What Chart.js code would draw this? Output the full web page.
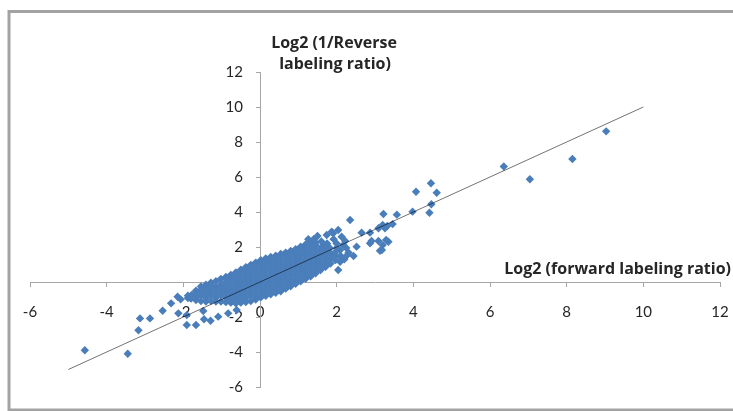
<!DOCTYPE html>
<html>
<head>
<meta charset="utf-8">
<title>Forward vs reverse labeling ratio</title>
<script src="https://cdn.jsdelivr.net/npm/chart.js@4/dist/chart.umd.min.js"></script>
<style>
  html, body { margin: 0; padding: 0; background: #fff; }
  canvas { display: block; }
</style>
</head>
<body>
<canvas id="ratioChart" width="733" height="411"></canvas>
<script>
// Axis range and tick spacing (both axes share them)
const axisMin = -6;
const axisMax = 12;
const axisStep = 2;

// Diagonal reference line end points
const fitX = [-5, 10];
const fitY = [-5, 10];

// Dense central cluster, listed column by column:
// forward log2 ratio for each column, reverse log2 ratios found in it
const coreX = [-1.88, -1.80, -1.67, -1.54, -1.41, -1.28, -1.15, -1.02, -0.89, -0.76, -0.63,
  -0.50, -0.37, -0.24, -0.11, 0.02, 0.15, 0.28, 0.41, 0.54, 0.67, 0.80, 0.93, 1.06, 1.19,
  1.32, 1.45, 1.58, 1.71, 1.84, 1.97, 2.10];
const coreY = [
  [-0.92, -0.78],
  [-0.95, -0.80],
  [-1.03, -0.90, -0.60, -0.50],
  [-1.09, -0.75, -0.45, -0.26],
  [-1.11, -0.90, -0.60, -0.30, -0.15],
  [-1.08, -0.75, -0.45, -0.15, -0.04],
  [-1.11, -0.90, -0.60, -0.30, 0.05],
  [-1.12, -0.75, -0.45, -0.15, 0.18],
  [-1.15, -0.90, -0.60, -0.30, 0.00, 0.29],
  [-1.18, -1.05, -0.75, -0.45, -0.15, 0.15, 0.41],
  [-1.21, -0.90, -0.60, -0.30, 0.00, 0.30, 0.55],
  [-1.18, -1.05, -0.75, -0.45, -0.15, 0.15, 0.45, 0.70],
  [-1.14, -0.90, -0.60, -0.30, 0.00, 0.30, 0.60, 0.85],
  [-1.09, -0.75, -0.45, -0.15, 0.15, 0.45, 0.75, 0.98],
  [-1.00, -0.90, -0.60, -0.30, 0.00, 0.30, 0.60, 0.90, 1.11],
  [-0.88, -0.75, -0.45, -0.15, 0.15, 0.45, 0.75, 1.05, 1.25],
  [-0.79, -0.60, -0.30, 0.00, 0.30, 0.60, 0.90, 1.20, 1.34],
  [-0.70, -0.45, -0.15, 0.15, 0.45, 0.75, 1.05, 1.35, 1.43],
  [-0.61, -0.30, 0.00, 0.30, 0.60, 0.90, 1.20, 1.50],
  [-0.53, -0.45, -0.15, 0.15, 0.45, 0.75, 1.05, 1.35, 1.60],
  [-0.38, -0.30, 0.00, 0.30, 0.60, 0.90, 1.20, 1.50, 1.68],
  [-0.24, -0.15, 0.15, 0.45, 0.75, 1.05, 1.35, 1.65, 1.77],
  [-0.10, 0.00, 0.30, 0.60, 0.90, 1.20, 1.50, 1.80, 1.88],
  [0.04, 0.15, 0.45, 0.75, 1.05, 1.35, 1.65, 1.95, 2.02],
  [0.18, 0.30, 0.60, 0.90, 1.20, 1.50, 1.80, 2.10, 2.14],
  [0.32, 0.45, 0.75, 1.05, 1.35, 1.65, 1.95, 2.20],
  [0.50, 0.60, 0.90, 1.20, 1.50, 1.80, 2.10, 2.26],
  [0.69, 0.75, 1.05, 1.35, 1.65, 1.95],
  [0.87, 0.90, 1.20, 1.50, 1.80],
  [1.06, 1.35, 1.65],
  [1.25, 1.50],
  [1.45]
];

// Scattered proteins outside the main cluster
const outerX = [9.03, 8.15, 7.04, 6.36,
  4.46, 4.07, 4.61, 4.47, 4.42, 3.98, 3.57, 3.22,
  3.20, 3.32, 3.46, 3.09, 3.26,
  3.29, 3.35, 3.20, 3.18, 3.09, 2.91, 2.87, 3.13,
  2.35, 2.65, 2.87, 2.04, 1.87, 1.91, 2.13, 1.74, 1.50, 1.26,
  2.52, 2.17, 2.09, 2.31, 2.44, 2.09, 2.04,
  1.60, 1.75, 1.92, 2.00, 1.66, 1.82, 2.00, 2.22, 1.40, 2.25, 1.95, 2.10, 2.20, 2.28,
  -4.57, -3.45, -3.17, -3.13, -2.87, -2.54, -2.32, -2.15, -2.07, -2.13,
  -1.91, -1.91, -1.67, -1.46, -1.29, -1.09, -0.83, -0.61, -1.48, -1.78];
const outerY = [8.61, 7.03, 5.87, 6.60,
  5.64, 5.16, 5.10, 4.44, 3.96, 4.02, 3.85, 3.89,
  3.26, 3.20, 3.31, 3.07, 3.07,
  2.40, 2.30, 2.11, 1.83, 2.34, 2.34, 2.21, 1.79,
  3.54, 2.82, 2.82, 2.97, 2.87, 2.78, 2.59, 2.69, 2.63, 2.44,
  2.02, 2.11, 1.83, 1.68, 1.49, 1.16, 0.69,
  2.32, 2.20, 2.45, 2.20, 2.02, 1.95, 1.95, 2.35, 2.45, 1.95, 1.68, 1.50, 1.30, 1.55,
  -3.90, -4.10, -2.76, -2.08, -2.08, -1.64, -1.22, -0.84, -0.99, -1.79,
  -1.89, -2.46, -2.46, -2.13, -2.21, -1.98, -1.79, -1.60, -1.66, -0.74];

const axisTitleY = ['Log2 (1/Reverse', 'labeling ratio)'];
const axisTitleX = 'Log2 (forward labeling ratio)';

// Build point lists for the library
const points = [];
coreX.forEach((x, i) => coreY[i].forEach(y => points.push({ x: x, y: y })));
outerX.forEach((x, i) => points.push({ x: x, y: outerY[i] }));
const fitPoints = fitX.map((x, i) => ({ x: x, y: fitY[i] }));

const axisColor = '#a6a6a6';
const textColor = '#262626';
const tickFont = 'Lato, "Liberation Sans", sans-serif';
const titleFont = 'bold 16px "Open Sans", "Liberation Sans", sans-serif';

// Frame, axis titles and tick label offsets from the crossing axes
const decorations = {
  id: 'decorations',
  beforeDraw(chart) {
    const ctx = chart.ctx;
    ctx.save();
    ctx.fillStyle = '#fff';
    ctx.fillRect(0, 0, chart.width, chart.height);
    ctx.strokeStyle = '#a3a3a3';
    ctx.lineWidth = 3;
    ctx.strokeRect(9, 11.5, 740, 398.5);
    ctx.restore();

    const xZero = chart.scales.x.getPixelForValue(0);
    const yZero = chart.scales.y.getPixelForValue(0);
    chart.scales.y.getLabelItems().forEach(item => {
      item.options.translation[0] = xZero - 17;
    });
    chart.scales.x.getLabelItems().forEach(item => {
      item.options.translation[1] = yZero + 21;
    });
  },
  afterDraw(chart) {
    const ctx = chart.ctx;
    ctx.save();
    ctx.fillStyle = textColor;
    ctx.font = titleFont;
    ctx.textBaseline = 'middle';
    ctx.textAlign = 'center';
    ctx.fillText(axisTitleY[0], 334, 43);
    ctx.fillText(axisTitleY[1], 335, 64);
    ctx.textAlign = 'right';
    ctx.fillText(axisTitleX, 731, 269);
    ctx.restore();
  }
};

const ctx = document.getElementById('ratioChart').getContext('2d');
const ratioChart = new Chart(ctx, {
  type: 'scatter',
  data: {
    datasets: [{
      label: 'y = x',
      data: fitPoints,
      showLine: true,
      borderColor: 'rgba(0, 0, 0, 0.55)',
      borderWidth: 1,
      pointRadius: 0,
      order: 0
    }, {
      label: 'Proteins',
      data: points,
      pointStyle: 'rectRot',
      pointRadius: 4.2,
      pointBorderWidth: 0,
      backgroundColor: '#4a7ebb',
      borderColor: '#4a7ebb',
      order: 1
    }]
  },
  options: {
    responsive: false,
    animation: false,
    devicePixelRatio: 1,
    layout: {
      padding: { left: 30, right: 13, top: 72, bottom: 24 }
    },
    plugins: {
      legend: { display: false },
      tooltip: { enabled: false }
    },
    scales: {
      x: {
        type: 'linear',
        position: { y: 0 },
        min: axisMin,
        max: axisMax,
        ticks: {
          stepSize: axisStep,
          padding: 0,
          color: textColor,
          font: { family: tickFont, size: 15 }
        },
        grid: { drawOnChartArea: false, tickLength: 4, color: axisColor },
        border: { color: axisColor }
      },
      y: {
        type: 'linear',
        position: { x: 0 },
        min: axisMin,
        max: axisMax,
        ticks: {
          stepSize: axisStep,
          padding: 0,
          color: textColor,
          font: { family: tickFont, size: 15 }
        },
        grid: { drawOnChartArea: false, tickLength: 4, color: axisColor },
        border: { color: axisColor }
      }
    }
  },
  plugins: [decorations]
});
</script>
</body>
</html>
